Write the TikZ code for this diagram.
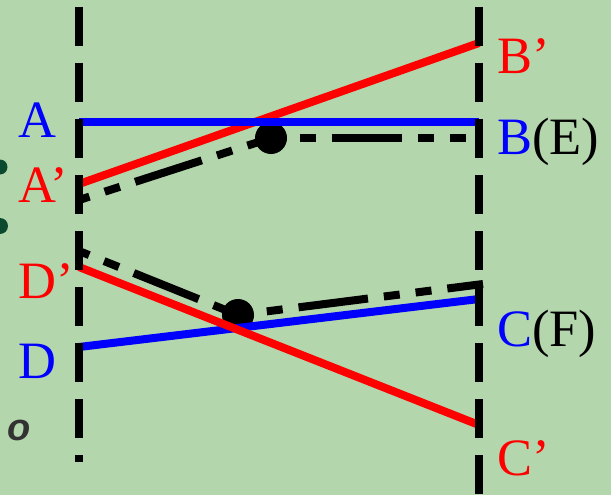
\documentclass[tikz,border=0pt]{standalone}
\usepackage{fontspec}
\setmainfont{Liberation Serif}
\newfontfamily\bulletfont{Liberation Sans}
\definecolor{bg}{RGB}{180,214,172}
\definecolor{dotgreen}{RGB}{12,74,48}
\definecolor{bulletgray}{RGB}{50,50,50}
\begin{document}
\begin{tikzpicture}[x=1pt,y=-1pt,
  lbl/.style={inner sep=0pt, anchor=base west, font=\fontsize{52.5}{60}\selectfont},
  guide/.style={line width=8pt, dash pattern=on 39pt off 17pt},
  ray/.style={line width=8pt},
  dd/.style={line width=8pt, dash pattern=on 70pt off 16pt on 16pt off 16pt on 16pt off 16pt},
  pt/.style={circle, fill=black, inner sep=0pt, minimum size=32pt}]
\fill[bg] (0,0) rectangle (611,495);
\useasboundingbox (0,0) rectangle (611,495);
% points
\coordinate (A) at (79,122);  \coordinate (B) at (479,122);
\coordinate (A1) at (79,184); \coordinate (B1) at (479,43);
\coordinate (AE) at (79,200); \coordinate (Ec) at (271,138); \coordinate (E) at (483,138);
\coordinate (DF) at (79,251); \coordinate (Fc) at (238,315); \coordinate (F) at (483,284);
\coordinate (D1) at (79,267); \coordinate (C1) at (479,425);
\coordinate (D) at (79,347);  \coordinate (C) at (479,299);
\coordinate (Lt) at (79,7);   \coordinate (Lb) at (79,462);
\coordinate (Rt) at (479,7);  \coordinate (Rb) at (479,495);
% dash-dot rays
\draw[dd, dash phase=91pt] (AE) -- (Ec);
\draw[dd, dash phase=89pt] (Ec) -- (E);
\draw[dd, dash phase=91pt] (DF) -- (Fc);
\draw[dd, dash phase=89pt] (Fc) -- (F);
% intersection dots
\node[pt] (Edot) at (Ec) {};
\node[pt] (Fdot) at (Fc) {};
% coloured rays
\draw[ray, blue] (D) -- (C);
\draw[ray, red] (A1) -- (B1);
\draw[ray, red] (D1) -- (C1);
\draw[ray, blue] (A) -- (B);
% guide lines
\draw[guide] (Lt) -- (Lb);
\draw[guide] (Rt) -- (Rb);
% labels
\node[lbl, text=blue] (lA) at (18,137) {A};
\node[lbl, text=red] (lA1) at (18,202) {A’};
\node[lbl, text=red] (lD1) at (18,298) {D’};
\node[lbl, text=blue] (lD) at (18,378) {D};
\node[lbl, text=red] (lB1) at (497,74) {B’};
\node[lbl] (lB) at (497,154) {\textcolor{blue}{B}(E)};
\node[lbl] (lC) at (497,346) {\textcolor{blue}{C}(F)};
\node[lbl, text=red] (lC1) at (497,475) {C’};
% slide bullet remnants
\fill[dotgreen] (0,167) circle (7.5);
\fill[dotgreen] (0,226) circle (8);
\node[inner sep=0pt, text=bulletgray, font=\bulletfont\bfseries\itshape\fontsize{38}{40}\selectfont] (bul) at (19,430) {o};
\end{tikzpicture}
\end{document}
